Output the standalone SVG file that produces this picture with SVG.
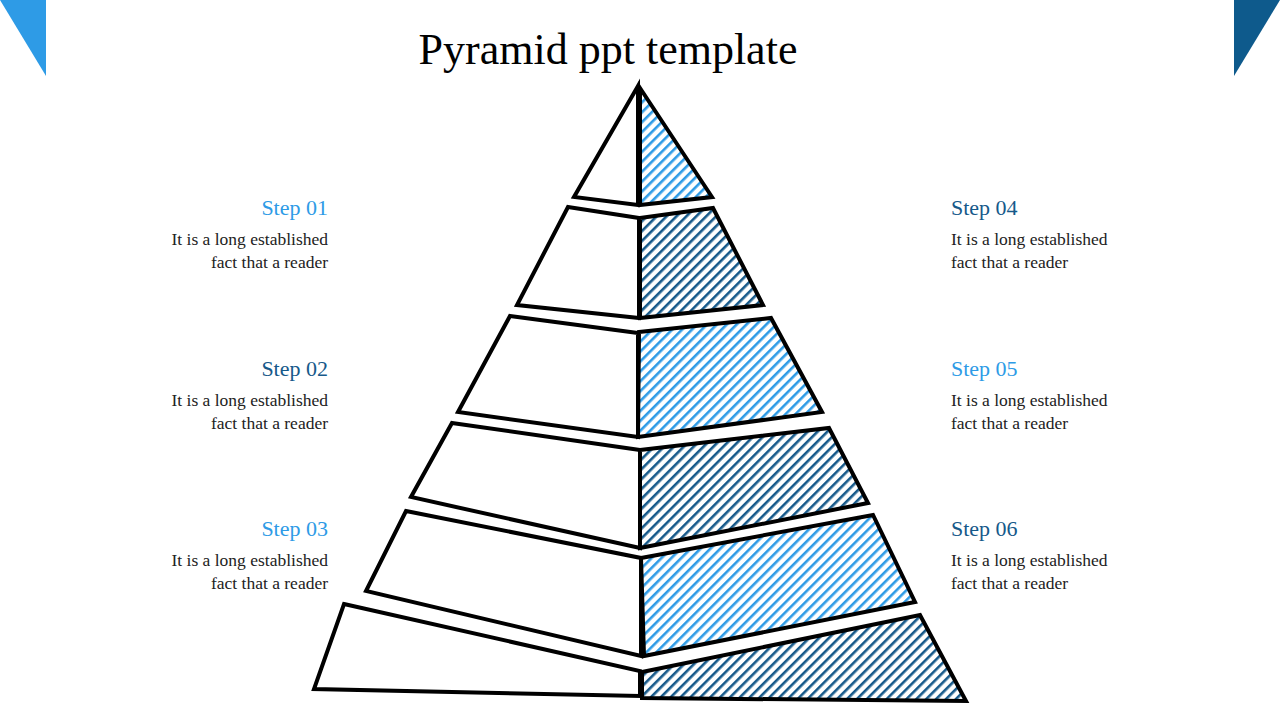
<svg xmlns="http://www.w3.org/2000/svg" width="1280" height="720" viewBox="0 0 1280 720">
<style>
.t{font-family:"Liberation Serif",serif;}
.hd{font-size:22px}
.bd{font-size:17.5px;fill:#222}
.lb{fill:#2e9be6}
.db{fill:#16598a}
.w{fill:#fff;stroke:#000;stroke-width:4;stroke-linejoin:miter}
.hl{fill:url(#hl);stroke:#000;stroke-width:4}
.hdk{fill:url(#hd);stroke:#000;stroke-width:4}
</style>
<defs>
<pattern id="hl" width="7" height="7" patternUnits="userSpaceOnUse" patternTransform="rotate(-45)">
<rect width="7" height="7" fill="#fff"/><rect width="7" height="2.6" fill="#2e9be6"/></pattern>
<pattern id="hd" width="7" height="7" patternUnits="userSpaceOnUse" patternTransform="rotate(-45)">
<rect width="7" height="7" fill="#fff"/><rect width="7" height="2.6" fill="#16598a"/></pattern>
</defs>
<rect width="1280" height="720" fill="#fff"/>
<polygon points="0,0 46,0 46,76" fill="#2e9be6"/>
<polygon points="1234,0 1280,0 1234,76" fill="#0e5a8c"/>
<text class="t" x="608" y="64" font-size="44" text-anchor="middle" fill="#000">Pyramid ppt template</text>
<g id="pyramid-left">
<polygon class="w" points="638,86 574,197 638,205"/>
<polygon class="w" points="568,207 639,218 639,318 517,305"/>
<polygon class="w" points="510,316 638,333 638,437 458,412"/>
<polygon class="w" points="452,423 640,450 640,548 411,497"/>
<polygon class="w" points="406,511 641,558 641,656 366,591"/>
<polygon class="w" points="344,604 640,671 640,696 314,689"/>
</g>
<g id="pyramid-right">
<polygon class="hl" points="640,88 712,197 640,205"/>
<polygon class="hdk" points="640,218 713,208 763,305 640,318"/>
<polygon class="hl" points="639,332 771,318 822,412 638,437"/>
<polygon class="hdk" points="640,450 829,428 868,503 640,548"/>
<polygon class="hl" points="641,558 873,515 915,602 644,656"/>
<polygon class="hdk" points="642,672 920,615 966,701 642,698"/>
</g>
<g id="step01" class="t"><text class="hd lb" x="328" y="215" text-anchor="end">Step 01</text><text class="bd" x="328" y="245" text-anchor="end">It is a long established</text><text class="bd" x="328" y="268" text-anchor="end">fact that a reader</text></g>
<g id="step02" class="t"><text class="hd db" x="328" y="376" text-anchor="end">Step 02</text><text class="bd" x="328" y="406" text-anchor="end">It is a long established</text><text class="bd" x="328" y="429" text-anchor="end">fact that a reader</text></g>
<g id="step03" class="t"><text class="hd lb" x="328" y="536" text-anchor="end">Step 03</text><text class="bd" x="328" y="566" text-anchor="end">It is a long established</text><text class="bd" x="328" y="589" text-anchor="end">fact that a reader</text></g>
<g id="step04" class="t"><text class="hd db" x="951" y="215">Step 04</text><text class="bd" x="951" y="245">It is a long established</text><text class="bd" x="951" y="268">fact that a reader</text></g>
<g id="step05" class="t"><text class="hd lb" x="951" y="376">Step 05</text><text class="bd" x="951" y="406">It is a long established</text><text class="bd" x="951" y="429">fact that a reader</text></g>
<g id="step06" class="t"><text class="hd db" x="951" y="536">Step 06</text><text class="bd" x="951" y="566">It is a long established</text><text class="bd" x="951" y="589">fact that a reader</text></g>
</svg>
